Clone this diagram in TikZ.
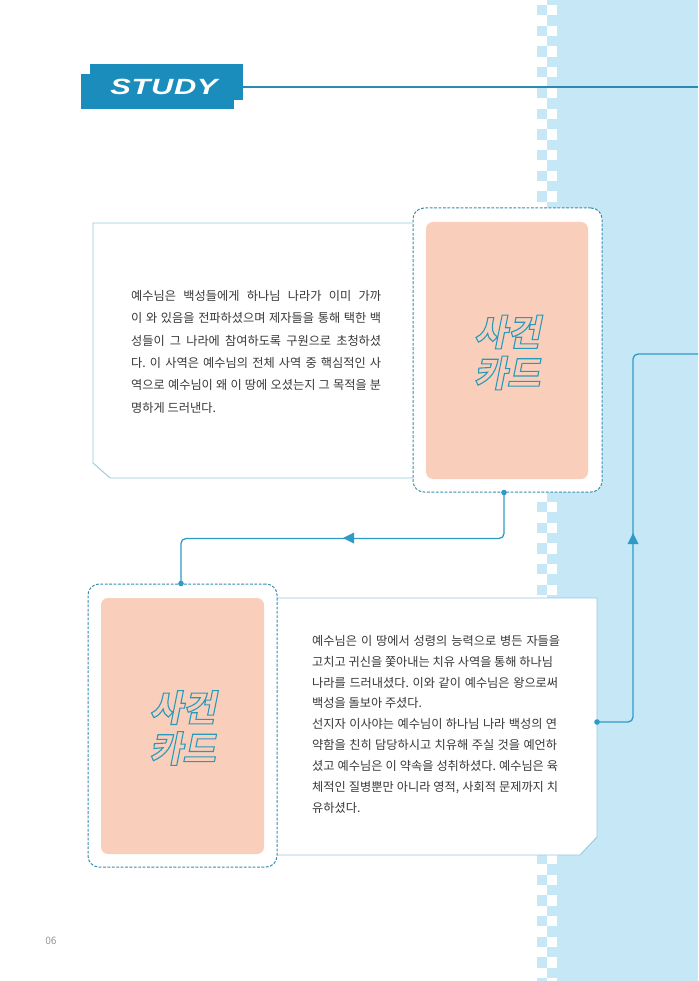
\documentclass[tikz,border=0pt]{standalone}
\usepackage{fontspec}
\setmainfont{Noto Sans CJK KR}
\newfontfamily\kr{Noto Sans CJK KR}
\newfontfamily\krcard{Noto Sans CJK KR}[FakeSlant=0.2]
\newfontfamily\studyfont{Liberation Sans}[FakeStretch=1.4,LetterSpace=3]
\newfontfamily\pnumfont{DejaVu Sans}[FakeStretch=0.9]
\usetikzlibrary{calc}
\definecolor{panel}{HTML}{C5E7F6}
\definecolor{bannerc}{HTML}{1B8DBD}
\definecolor{headline}{HTML}{2A8AB3}
\definecolor{boxline}{HTML}{94CAE0}
\definecolor{dashc}{HTML}{3A8DB0}
\definecolor{peach}{HTML}{F9CFBC}
\definecolor{connc}{HTML}{2E9BC6}
\definecolor{txtc}{HTML}{383838}
\definecolor{outc}{HTML}{2C9DBF}
\newcommand{\fullline}[2]{\makebox[#1][s]{#2}}
\newcommand{\outlineword}[1]{\special{pdf:literal direct q 1 Tr 1.1 w 0.16 0.6 0.73 RG}#1\special{pdf:literal direct Q}}
\begin{document}
\frenchspacing
\begin{tikzpicture}[x=1pt,y=-1pt,
  cardbox/.style={draw=dashc,line width=1pt,dash pattern=on 2.8pt off 1.6pt,fill=white,rounded corners=11pt},
  peachbox/.style={fill=peach,rounded corners=7pt},
  infobox/.style={draw=boxline,line width=0.9pt,fill=white},
  conn/.style={draw=connc,line width=1.3pt,rounded corners=5pt},
  dot/.style={fill=connc},
  bodytxt/.style={anchor=base west,inner sep=0pt,text=txtc,font=\kr\fontsize{12.2}{14}\selectfont},
  cardtxt/.style={inner sep=0pt,align=center,text=outc,font=\krcard\bfseries\fontsize{36}{41}\selectfont}
]
\useasboundingbox (0,0) rectangle (698,981);
\clip (0,0) rectangle (698,981);
\fill[white] (0,0) rectangle (698,981);
% right panel with checker
\fill[panel] (547,0) rectangle (698,981);
\foreach \i in {0,...,47}{
  \fill[panel] (537,{5+20.705*\i}) rectangle (547,{15.35+20.705*\i});
  \fill[white] (547,{5+20.705*\i}) rectangle (557,{15.35+20.705*\i});
}
% header
\draw[headline,line width=1.5pt] (243,87) -- (698,87);
\fill[bannerc] (90,64) rectangle (243,100);
\fill[bannerc] (81,74) rectangle (234,109);
\node[text=white,inner sep=0pt,font=\studyfont\bfseries\itshape\fontsize{22}{24}\selectfont] (study) at (164,87) {STUDY};
% top info box
\draw[infobox] (413,223) -- (93,223) -- (93,463) -- (110,478) -- (413,478);
% card 1
\node[cardbox,minimum width=189pt,minimum height=284pt,inner sep=0pt] (card1) at (507.5,350) {};
\node[peachbox,minimum width=162pt,minimum height=257pt,inner sep=0pt] (peach1) at (507,350.5) {};
\node[cardtxt] (title1) at ($(peach1.center)+(0,2)$) {\outlineword{사건}\\\outlineword{카드}};
% top text
\node[bodytxt] (a1) at (131,300.2) {\fullline{250pt}{예수님은 백성들에게 하나님 나라가 이미 가까}};
\node[bodytxt] (a2) at (131,322.6) {\fullline{250pt}{이 와 있음을 전파하셨으며 제자들을 통해 택한 백}};
\node[bodytxt] (a3) at (131,345.0) {\fullline{250pt}{성들이 그 나라에 참여하도록 구원으로 초청하셨}};
\node[bodytxt] (a4) at (131,367.4) {\fullline{250pt}{다. 이 사역은 예수님의 전체 사역 중 핵심적인 사}};
\node[bodytxt] (a5) at (131,389.8) {\fullline{250pt}{역으로 예수님이 왜 이 땅에 오셨는지 그 목적을 분}};
\node[bodytxt] (a6) at (131,412.2) {명하게 드러낸다.};
% bottom info box
\draw[infobox] (277,598) -- (597,598) -- (597,837) -- (580,855) -- (277,855);
% card 2
\node[cardbox,minimum width=189pt,minimum height=283pt,inner sep=0pt] (card2) at (182.5,725.5) {};
\node[peachbox,minimum width=163pt,minimum height=256pt,inner sep=0pt] (peach2) at (182.5,726) {};
\node[cardtxt] (title2) at ($(peach2.center)+(0,2)$) {\outlineword{사건}\\\outlineword{카드}};
% bottom text
\node[bodytxt] (b1) at (312,645.2) {\fullline{248pt}{예수님은 이 땅에서 성령의 능력으로 병든 자들을}};
\node[bodytxt] (b2) at (312,666.1) {고치고 귀신을 쫓아내는 치유 사역을 통해 하나님};
\node[bodytxt] (b3) at (312,687.0) {\fullline{246pt}{나라를 드러내셨다. 이와 같이 예수님은 왕으로써}};
\node[bodytxt] (b4) at (312,707.9) {백성을 돌보아 주셨다.};
\node[bodytxt] (b5) at (312,728.8) {\fullline{245pt}{선지자 이사야는 예수님이 하나님 나라 백성의 연}};
\node[bodytxt] (b6) at (312,749.7) {\fullline{245pt}{약함을 친히 담당하시고 치유해 주실 것을 예언하}};
\node[bodytxt] (b7) at (312,770.6) {\fullline{246pt}{셨고 예수님은 이 약속을 성취하셨다. 예수님은 육}};
\node[bodytxt] (b8) at (312,791.5) {\fullline{246pt}{체적인 질병뿐만 아니라 영적, 사회적 문제까지 치}};
\node[bodytxt] (b9) at (312,812.4) {유하셨다.};
% connectors
\coordinate (b2dot) at (597,722);
\coordinate (rightend) at (698,354);
\draw[conn] ([xshift=-3.5pt]card1.south) -- ++(0,46) -| ([xshift=-1.5pt]card2.north);
\fill[connc] (343,538) -- (354,532.5) -- (354,543.5) -- cycle;
\fill[dot] ([xshift=-3.5pt]card1.south) circle (2.8);
\fill[dot] ([xshift=-1.5pt]card2.north) circle (2.8);
\draw[conn] (b2dot) -| (633,354) -- (rightend);
\fill[connc] (633,533) -- (627.5,544) -- (638.5,544) -- cycle;
\fill[dot] (b2dot) circle (2.8);
% page number
\node[text=gray!80,inner sep=0pt,font=\pnumfont\fontsize{10}{12}\selectfont] (pnum) at (51,941) {06};
\end{tikzpicture}
\end{document}
